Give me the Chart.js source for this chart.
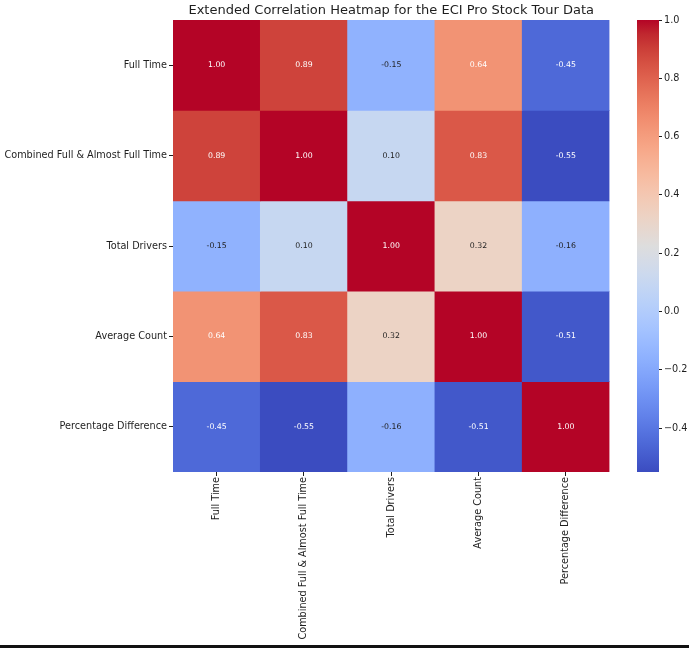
<!DOCTYPE html>
<html>
<head>
<meta charset="utf-8">
<script src="https://cdn.jsdelivr.net/npm/chart.js@4.4.1/dist/chart.umd.min.js"></script>
<style>
  body { margin: 0; background: #fff; }
  #wrap { position: relative; width: 689px; height: 648px; }
  #wrap canvas { position: absolute; left: 0; top: 0; }
  #edge { position: absolute; left: 0; top: 645px; width: 689px; height: 3px; background: #111; }
</style>
</head>
<body>
<div id="wrap">
  <div style="position:absolute;left:0;top:0;width:689px;height:648px"><canvas id="heat"></canvas></div>
  <div style="position:absolute;left:0;top:0;width:689px;height:648px"><canvas id="bar"></canvas></div>
  <div id="edge"></div>
</div>
<script>
// variables, rows top to bottom and columns left to right
const labels = ['Full Time', 'Combined Full & Almost Full Time', 'Total Drivers', 'Average Count', 'Percentage Difference'];

const fullTime     = [1.00, 0.89, -0.15, 0.64, -0.45];
const combinedFull = [0.89, 1.00, 0.10, 0.83, -0.55];
const totalDrivers = [-0.15, 0.10, 1.00, 0.32, -0.16];
const averageCount = [0.64, 0.83, 0.32, 1.00, -0.51];
const pctDiff      = [-0.45, -0.55, -0.16, -0.51, 1.00];

const rows = [fullTime, combinedFull, totalDrivers, averageCount, pctDiff];
const colorbarTicks = [-0.4, -0.2, 0.0, 0.2, 0.4, 0.6, 0.8, 1.0];

const vmin = Math.min(...rows.flat());
const vmax = Math.max(...rows.flat());

// matplotlib coolwarm, 33 samples
const coolwarm = [
  [59,76,192],[68,90,204],[77,104,215],[87,117,225],[98,130,234],[108,142,241],[119,154,247],[130,165,251],
  [141,176,254],[152,185,255],[163,194,255],[174,201,253],[184,208,249],[194,213,244],[204,217,238],[213,219,230],
  [221,221,221],[229,216,209],[236,211,197],[241,204,185],[245,196,173],[247,187,160],[247,177,148],[247,166,135],
  [244,154,123],[241,141,111],[236,127,99],[229,112,88],[222,96,77],[213,80,66],[203,62,56],[192,40,47],[180,4,38]
];

function cmap(t) {
  t = Math.max(0, Math.min(1, t)) * (coolwarm.length - 1);
  const i = Math.min(Math.floor(t), coolwarm.length - 2);
  const f = t - i;
  const a = coolwarm[i], b = coolwarm[i + 1];
  return a.map((c, k) => c + (b[k] - c) * f);
}
function rgb(c) { return 'rgb(' + c.map(Math.round).join(',') + ')'; }
function colorFor(v) { return rgb(cmap((v - vmin) / (vmax - vmin))); }
// light text on dark cells, dark text on light ones
function textFor(v) {
  const lin = cmap((v - vmin) / (vmax - vmin)).map(c => {
    c /= 255;
    return c <= 0.03928 ? c / 12.92 : Math.pow((c + 0.055) / 1.055, 2.4);
  });
  const lum = 0.2126 * lin[0] + 0.7152 * lin[1] + 0.0722 * lin[2];
  return lum > 0.43 ? '#1e1e1e' : '#ffffff';
}

const FONT = 'DejaVu Sans';
const INK = '#1e1e1e';
const TICK_SIZE = 9.7;

const annotate = {
  id: 'annotate',
  afterDatasetsDraw(chart) {
    const ctx = chart.ctx;
    ctx.save();
    ctx.font = '7.8px "' + FONT + '"';
    ctx.textAlign = 'center';
    ctx.textBaseline = 'middle';
    chart.data.datasets.forEach((ds, i) => {
      chart.getDatasetMeta(i).data.forEach((el, j) => {
        const v = rows[i][j];
        ctx.fillStyle = textFor(v);
        ctx.fillText(v.toFixed(2), el.x, (el.y + el.base) / 2);
      });
    });
    ctx.restore();
  }
};

new Chart(document.getElementById('heat'), {
  type: 'bar',
  data: {
    labels: labels,
    datasets: rows.map((r, i) => ({
      label: labels[i],
      data: r.map(() => [i - 0.5, i + 0.5]),
      backgroundColor: r.map(colorFor),
      borderWidth: 0,
      grouped: false,
      barPercentage: 1,
      categoryPercentage: 1
    }))
  },
  options: {
    responsive: true,
    maintainAspectRatio: false,
    animation: false,
    layout: { padding: { left: 0, right: 79.5, top: 0, bottom: 6 } },
    plugins: {
      legend: { display: false },
      tooltip: { enabled: false },
      title: {
        display: true,
        text: 'Extended Correlation Heatmap for the ECI Pro Stock Tour Data',
        fullSize: false,
        color: INK,
        font: { family: FONT, size: 13, weight: 'normal' },
        padding: { top: 3, bottom: 1.4 }
      }
    },
    scales: {
      x: {
        grid: { display: true, offset: false, drawOnChartArea: false, drawTicks: true, tickLength: 4, tickColor: INK },
        border: { display: false },
        ticks: { color: INK, font: { family: FONT, size: TICK_SIZE }, minRotation: 90, maxRotation: 90, padding: 1 },
        afterFit(scale) { scale.height = 170; }
      },
      y: {
        type: 'linear',
        min: -0.5,
        max: labels.length - 0.5,
        reverse: true,
        afterBuildTicks(scale) { scale.ticks = labels.map((_, i) => ({ value: i })); },
        grid: { display: true, drawOnChartArea: false, drawTicks: true, tickLength: 4, tickColor: INK },
        border: { display: false },
        ticks: { color: INK, font: { family: FONT, size: TICK_SIZE }, padding: 2, callback: v => labels[v] },
        afterFit(scale) { scale.width = 173; }
      }
    }
  },
  plugins: [annotate]
});

const gradientFill = {
  id: 'gradientFill',
  beforeDatasetsDraw(chart) {
    const a = chart.chartArea, ctx = chart.ctx;
    const g = ctx.createLinearGradient(0, a.bottom, 0, a.top);
    coolwarm.forEach((c, k) => g.addColorStop(k / (coolwarm.length - 1), rgb(c)));
    ctx.save();
    ctx.fillStyle = g;
    ctx.fillRect(a.left, a.top, a.right - a.left, a.bottom - a.top);
    ctx.restore();
  }
};

new Chart(document.getElementById('bar'), {
  type: 'scatter',
  data: { datasets: [{ data: [] }] },
  options: {
    responsive: true,
    maintainAspectRatio: false,
    animation: false,
    layout: { padding: { left: 637, right: 0, top: 20, bottom: 176 } },
    plugins: { legend: { display: false }, tooltip: { enabled: false } },
    scales: {
      x: { display: false, min: 0, max: 1 },
      y: {
        position: 'right',
        min: vmin,
        max: vmax,
        afterBuildTicks(scale) { scale.ticks = colorbarTicks.map(v => ({ value: v })); },
        grid: { display: true, drawOnChartArea: false, drawTicks: true, tickLength: 3, tickColor: INK },
        border: { display: false },
        ticks: {
          color: INK,
          font: { family: FONT, size: TICK_SIZE },
          padding: 2,
          callback: v => v.toFixed(1).replace('-', '\u2212')
        },
        afterFit(scale) { scale.width = 30; }
      }
    }
  },
  plugins: [gradientFill]
});
</script>
</body>
</html>
